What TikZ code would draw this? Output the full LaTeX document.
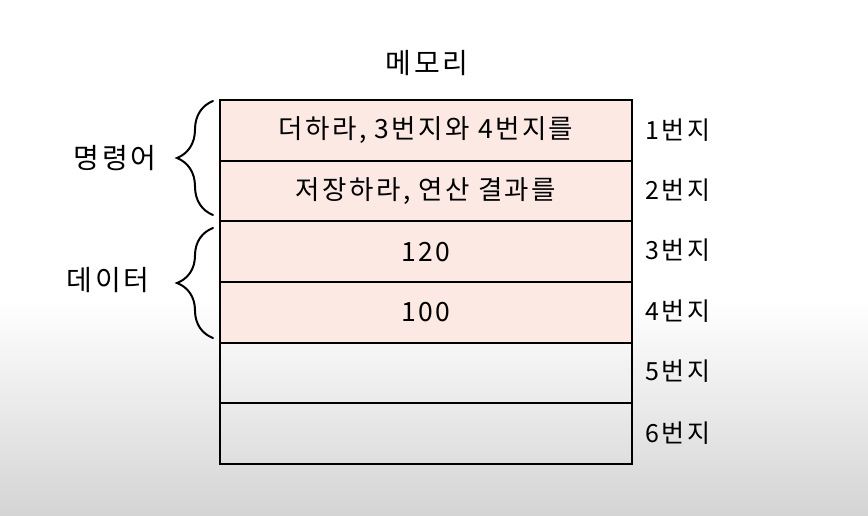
\documentclass[tikz,border=0pt]{standalone}
\usepackage{fontspec}
\setmainfont[LetterSpace=9]{Noto Sans CJK KR}
\usetikzlibrary{decorations.pathreplacing}
\definecolor{cellpink}{HTML}{FCE9E4}
\definecolor{bggray}{HTML}{D4D4D4}
\tikzset{
  cell/.style={draw=black, line width=2.2pt, minimum width=412pt, minimum height=60.67pt, inner sep=0pt},
  addr/.style={font=\fontsize{25}{28}\selectfont},
  grp/.style={font=\fontsize{28}{32}\selectfont},
  curly/.style={decorate, decoration={brace, amplitude=36pt}, line width=2pt, line cap=round}
}

\begin{document}
\begin{tikzpicture}[x=1pt,y=-1pt, font=\fontsize{26.5}{30}\selectfont]
\useasboundingbox (0,0) rectangle (868,516);
\fill[white] (0,0) rectangle (868,516);
\shade[top color=white, bottom color=bggray] (0,300) rectangle (868,516);
\node[grp] (title) at (427,63) {메모리};
\node[cell, fill=cellpink] (m1) at (426,130.3) {더하라, 3번지와 4번지를};
\node[cell, fill=cellpink] (m2) at (426,191.0) {저장하라, 연산 결과를};
\node[cell, fill=cellpink] (m3) at (426,251.7) {120};
\node[cell, fill=cellpink] (m4) at (426,312.3) {100};
\node[cell] (m5) at (426,373.0) {};
\node[cell] (m6) at (426,433.7) {};
\node[addr] (a1) at (678,130) {1번지};
\node[addr] (a2) at (678,190) {2번지};
\node[addr] (a3) at (678,250) {3번지};
\node[addr] (a4) at (678,311) {4번지};
\node[addr] (a5) at (678,371) {5번지};
\node[addr] (a6) at (678,433) {6번지};
\coordinate (b1top) at (213,101);
\coordinate (b1bot) at (213,215);
\coordinate (b2top) at (213,228);
\coordinate (b2bot) at (213,338);
\draw[curly] (b1bot) -- (b1top);
\draw[curly] (b2bot) -- (b2top);
\node[grp] (inst) at (115,158) {명령어};
\node[grp] (data) at (108,280) {데이터};
\end{tikzpicture}
\end{document}
